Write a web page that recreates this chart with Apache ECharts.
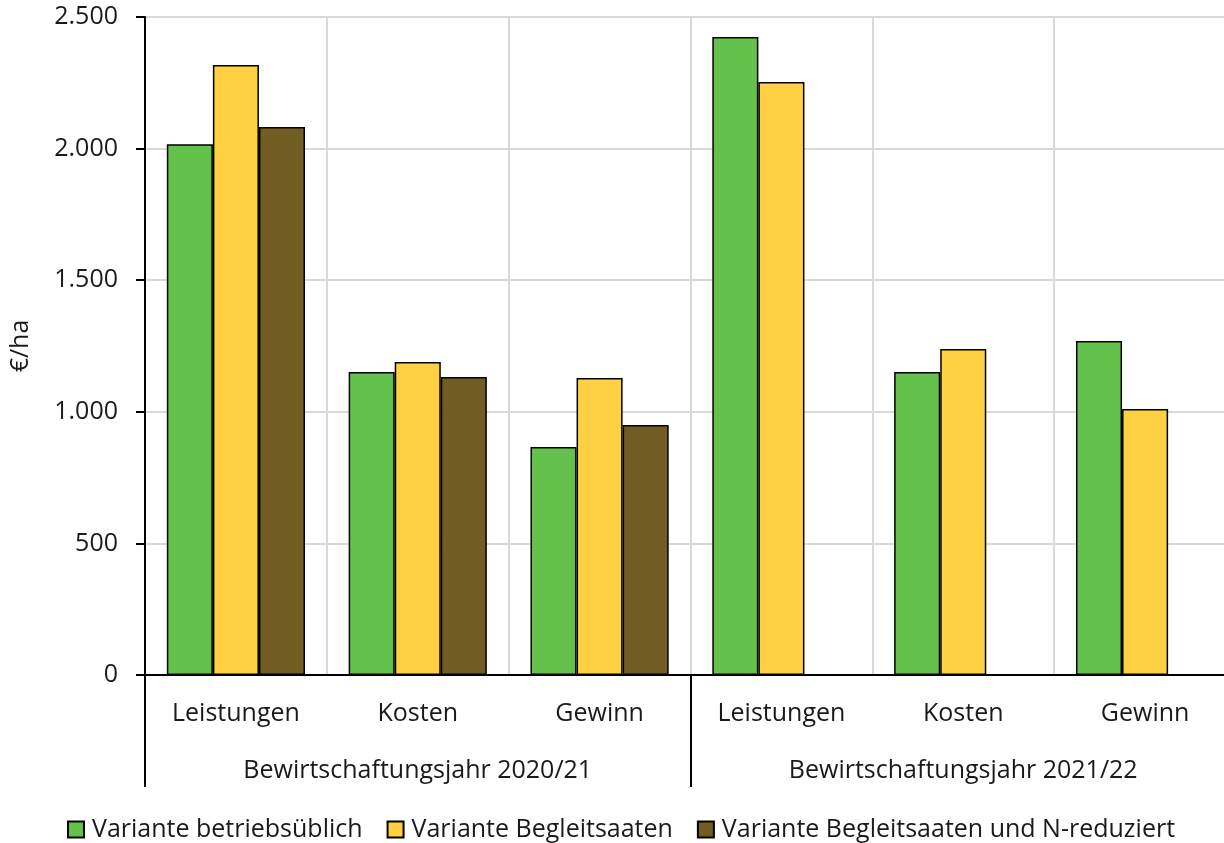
<!DOCTYPE html>
<html>
<head>
<meta charset="utf-8">
<style>
  html, body { margin: 0; padding: 0; background: #fff; overflow: hidden; }
  /* plot area runs slightly past the right edge of the window */
  #chart { width: 1236px; height: 843px; }
</style>
<script src="https://cdn.jsdelivr.net/npm/echarts@6/dist/echarts.min.js"></script>
</head>
<body>
<div id="chart"></div>
<script>
// Categories (inner level) and seasons (outer level)
const categories = ['Leistungen', 'Kosten', 'Gewinn', 'Leistungen', 'Kosten', 'Gewinn'];
const seasons = ['Bewirtschaftungsjahr 2020/21', 'Bewirtschaftungsjahr 2021/22'];

// Series values in €/ha
const betriebsueblich = [2017, 1151, 866, 2424, 1151, 1269];
const begleitsaaten = [2318, 1189, 1128, 2253, 1239, 1011];
const begleitsaatenNred = [2082, 1132, 950, null, null, null];

const seriesNames = ['Variante betriebsüblich', 'Variante Begleitsaaten', 'Variante Begleitsaaten und N-reduziert'];
const seriesColors = ['#64C24C', '#FFD041', '#715C24'];

const yTicks = { min: 0, max: 2500, interval: 500 };

const FONT = '"Open Sans", sans-serif';
const FW = 400;
const FS = 25;
const TXT = '#1a1a1a';

function fmt(v) {
  return String(v).replace(/\B(?=(\d{3})+(?!\d))/g, '.');
}

const chart = echarts.init(document.getElementById('chart'), null, { renderer: 'canvas' });

const values = [betriebsueblich, begleitsaaten, begleitsaatenNred];

chart.setOption({
  animation: false,
  textStyle: { fontFamily: FONT, fontWeight: FW },
  grid: { left: 143, top: 17, width: 1093, height: 658, containLabel: false },
  legend: {
    top: 812,
    left: 62,
    itemWidth: 16,
    itemHeight: 16,
    itemGap: 24,
    icon: 'rect',
    textStyle: { fontFamily: FONT, fontWeight: FW, fontSize: FS, color: TXT, padding: [0, 0, 0, 3] },
    data: seriesNames
  },
  xAxis: [
    {
      type: 'category',
      data: categories,
      position: 'bottom',
      axisLine: { show: true, lineStyle: { color: '#000', width: 2 } },
      axisTick: { show: false },
      axisLabel: { fontFamily: FONT, fontWeight: FW, fontSize: FS, color: TXT, margin: 26, interval: 0 },
      splitLine: { show: true, interval: 0, lineStyle: { color: '#d9d9d9', width: 2 } }
    },
    {
      type: 'category',
      data: seasons,
      position: 'bottom',
      axisLine: { show: false },
      axisTick: { show: true, length: 112, interval: 0, lineStyle: { color: '#000', width: 2 } },
      axisLabel: { fontFamily: FONT, fontWeight: FW, fontSize: FS, color: TXT, margin: 83, interval: 0 },
      splitLine: { show: false }
    }
  ],
  yAxis: {
    type: 'value',
    min: yTicks.min,
    max: yTicks.max,
    interval: yTicks.interval,
    name: '€/ha',
    nameLocation: 'middle',
    nameGap: 112,
    nameRotate: 90,
    nameTextStyle: { fontFamily: FONT, fontWeight: FW, fontSize: FS, color: TXT },
    axisLine: { show: true, lineStyle: { color: '#000', width: 2 } },
    axisTick: { show: true, length: 9, lineStyle: { color: '#000', width: 2 } },
    axisLabel: { fontFamily: FONT, fontWeight: FW, fontSize: FS, color: TXT, margin: 27, formatter: fmt },
    splitLine: { show: true, lineStyle: { color: '#d9d9d9', width: 2 } }
  },
  series: seriesNames.map((name, i) => ({
    name,
    type: 'bar',
    xAxisIndex: 0,
    data: values[i],
    barGap: '0%',
    barCategoryGap: '24%',
    itemStyle: { color: seriesColors[i], borderColor: '#000', borderWidth: 1.5 }
  }))
});
</script>
</body>
</html>
